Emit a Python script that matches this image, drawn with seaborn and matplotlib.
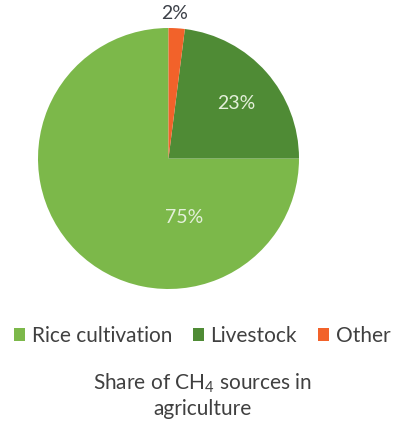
import matplotlib
matplotlib.use("Agg")
import matplotlib.pyplot as plt
from matplotlib.patches import Patch
import seaborn as sns

# Share of CH4 sources in agriculture (percent)
sources = ["Rice cultivation", "Livestock", "Other"]
shares = [75, 23, 2]
colors = ["#7cb84a", "#4f8b35", "#f2622a"]

sns.set_theme(style="white")
plt.rcParams["font.family"] = ["Lato", "DejaVu Sans"]
plt.rcParams["mathtext.default"] = "regular"

fig = plt.figure(figsize=(4.04, 4.33), dpi=100)
ax = fig.add_axes([38 / 404, (433 - 289) / 433, 261 / 404, 261 / 433])

wedges, _ = ax.pie(shares, colors=colors, startangle=90, counterclock=True,
                   wedgeprops=dict(linewidth=0))
ax.set_xlim(-1, 1)
ax.set_ylim(-1, 1)
ax.set_aspect("equal")
ax.axis("off")

# label placement (x, y in pie radius units) and colour for each slice
label_pos = [(0.12, -0.45), (0.52, 0.42), (0.05, 1.11)]
label_col = ["#e4f0da", "#e4f0da", "#3c4048"]
for val, (lx, ly), c in zip(shares, label_pos, label_col):
    ax.text(lx, ly, f"{val}%", ha="center", va="center", fontsize=14,
            color=c, clip_on=False)

handles = [Patch(facecolor=c, edgecolor="none") for c in colors]
fig.legend(handles, sources, loc="center", bbox_to_anchor=(0.5, 1 - 336 / 433),
           ncol=3, frameon=False, fontsize=15, handlelength=0.55,
           handleheight=0.55, handletextpad=0.3, columnspacing=1.0,
           labelcolor="#404040")

fig.text(0.5, 1 - 395 / 433, "Share of CH$_4$ sources in\nagriculture",
         ha="center", va="center", fontsize=15, color="#404040",
         linespacing=1.25)

fig.savefig("out.png", dpi=100, facecolor="white")
